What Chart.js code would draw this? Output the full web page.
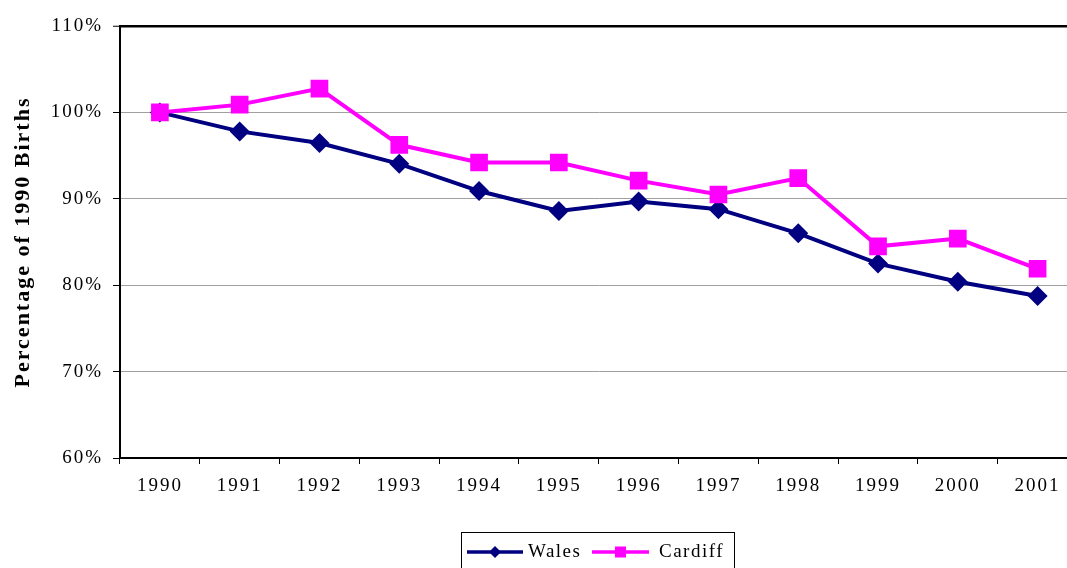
<!DOCTYPE html>
<html>
<head>
<meta charset="utf-8">
<script src="https://cdn.jsdelivr.net/npm/chart.js@4/dist/chart.umd.min.js"></script>
<style>
  html, body { margin: 0; padding: 0; background: #fff; overflow: hidden; }
  #wrap { width: 1090px; height: 568px; position: relative; }
</style>
</head>
<body>
<div id="wrap"><canvas id="c" width="1090" height="568"></canvas></div>
<script>
const years = ['1990','1991','1992','1993','1994','1995','1996','1997','1998','1999','2000','2001'];
const walesValues = [100, 97.8, 96.45, 94.05, 90.9, 88.6, 89.7, 88.8, 86.0, 82.5, 80.4, 78.75];
const cardiffValues = [100, 100.9, 102.75, 96.25, 94.2, 94.2, 92.1, 90.5, 92.4, 84.5, 85.4, 81.9];
const yTickValues = [60, 70, 80, 90, 100, 110];
const seriesNames = ['Wales', 'Cardiff'];
const yTitle = 'Percentage of 1990 Births';

const FONT = "'Liberation Serif', 'Times New Roman', serif";
const NAVY = '#000080';
const MAGENTA = '#ff00ff';

const spacingPlugin = {
  id: 'spacing',
  beforeDraw(chart) { chart.ctx.letterSpacing = '2px'; },
  afterDraw(chart) { chart.ctx.letterSpacing = '0px'; }
};

const legendPlugin = {
  id: 'boxLegend',
  afterDraw(chart) {
    const ctx = chart.ctx;
    ctx.save();
    ctx.letterSpacing = '1.5px';
    const left = 461, top = 532, right = 734, bottom = 600;
    ctx.strokeStyle = '#000';
    ctx.lineWidth = 1;
    ctx.strokeRect(left + 0.5, top + 0.5, right - left, bottom - top);
    const ly = 552;
    const items = [
      { name: seriesNames[0], color: NAVY, x0: 467, x1: 523, style: 'diamond', tx: 528 },
      { name: seriesNames[1], color: MAGENTA, x0: 592, x1: 649, style: 'square', tx: 659 }
    ];
    items.forEach(it => {
      ctx.strokeStyle = it.color;
      ctx.lineWidth = 3.5;
      ctx.beginPath();
      ctx.moveTo(it.x0, ly);
      ctx.lineTo(it.x1, ly);
      ctx.stroke();
      const cx = (it.x0 + it.x1) / 2;
      ctx.fillStyle = it.color;
      ctx.beginPath();
      if (it.style === 'diamond') {
        ctx.moveTo(cx, ly - 6); ctx.lineTo(cx + 6, ly); ctx.lineTo(cx, ly + 6); ctx.lineTo(cx - 6, ly);
      } else {
        ctx.rect(cx - 5.5, ly - 5.5, 11, 11);
      }
      ctx.closePath();
      ctx.fill();
      ctx.fillStyle = '#000';
      ctx.font = '19px ' + FONT;
      ctx.textBaseline = 'middle';
      ctx.textAlign = 'left';
      ctx.fillText(it.name, it.tx, ly);
    });
    ctx.restore();
  }
};

new Chart(document.getElementById('c'), {
  type: 'line',
  data: {
    labels: years,
    datasets: [
      {
        label: seriesNames[0],
        data: walesValues,
        borderColor: NAVY,
        backgroundColor: NAVY,
        borderWidth: 4,
        pointStyle: 'rectRot',
        pointRadius: 10,
        pointHoverRadius: 10,
        pointBorderWidth: 0,
        tension: 0,
        order: 1
      },
      {
        label: seriesNames[1],
        data: cardiffValues,
        borderColor: MAGENTA,
        backgroundColor: MAGENTA,
        borderWidth: 4,
        pointStyle: 'rect',
        pointRadius: 12.5,
        pointHoverRadius: 12.5,
        pointBorderWidth: 0,
        tension: 0,
        order: 0
      }
    ]
  },
  options: {
    responsive: false,
    animation: false,
    events: [],
    layout: { padding: { top: 26, right: 10, left: 0, bottom: 0 } },
    plugins: {
      legend: { display: false },
      tooltip: { enabled: false }
    },
    scales: {
      x: {
        offset: true,
        grid: {
          offset: true,
          drawOnChartArea: false,
          drawTicks: true,
          tickLength: 6,
          tickColor: '#000',
          tickWidth: 1
        },
        border: { display: true, color: '#000', width: 2 },
        ticks: {
          color: '#000',
          font: { family: FONT, size: 19 },
          padding: 11,
          maxRotation: 0,
          autoSkip: false
        },
        afterFit(scale) { scale.height = 110; }
      },
      y: {
        min: yTickValues[0],
        max: yTickValues[yTickValues.length - 1],
        afterBuildTicks(scale) { scale.ticks = yTickValues.map(v => ({ value: v })); },
        grid: {
          color: (c) => (c.tick && c.tick.value === 110) ? '#000' : '#a0a0a0',
          lineWidth: (c) => (c.tick && c.tick.value === 110) ? 2.5 : 1,
          drawTicks: true,
          tickLength: 7,
          tickColor: '#000',
          tickWidth: 1
        },
        border: { display: true, color: '#000', width: 2 },
        ticks: {
          color: '#000',
          font: { family: FONT, size: 19 },
          padding: 10,
          callback: (v) => v + '%'
        },
        title: {
          display: true,
          text: yTitle,
          color: '#000',
          font: { family: FONT, size: 22, weight: 'bold' },
          padding: { top: 10, bottom: 0 }
        },
        afterFit(scale) { scale.width = 120; }
      }
    }
  },
  plugins: [spacingPlugin, legendPlugin]
});
</script>
</body>
</html>
